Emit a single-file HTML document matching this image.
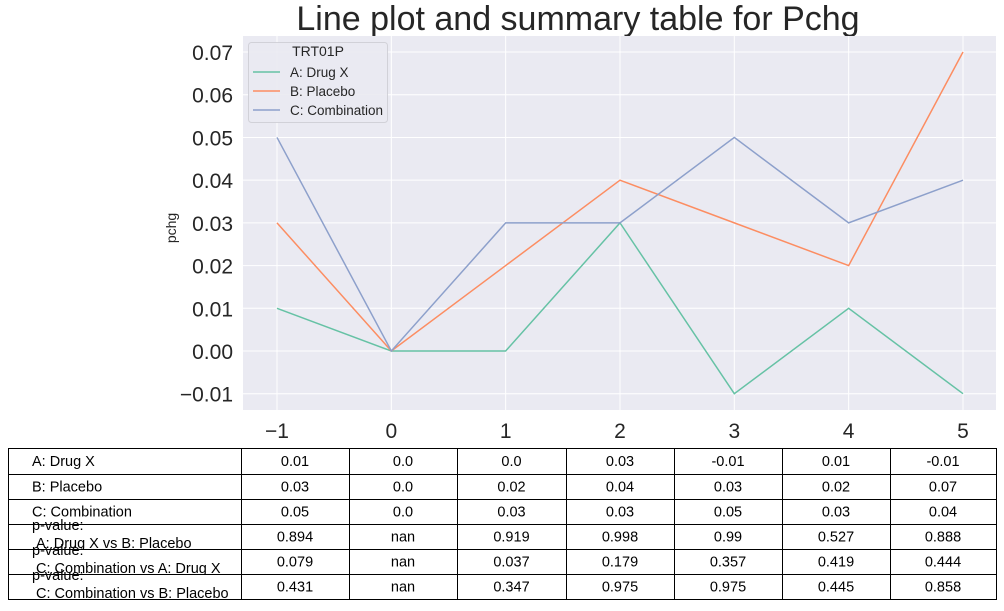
<!DOCTYPE html>
<html><head><meta charset="utf-8"><style>
body{margin:0;background:#fff;font-family:"Liberation Sans",Arial,sans-serif}
svg text{font-family:"Liberation Sans",Arial,sans-serif}
</style></head><body>
<svg id="c" width="1004" height="606" xmlns="http://www.w3.org/2000/svg">
<text x="578" y="30" font-size="34" text-anchor="middle" fill="#262626">Line plot and summary table for Pchg</text>
<rect x="243" y="36" width="753" height="374" fill="#eaeaf2"/>
<g id="grid"></g>
<g id="lines"></g>
<text transform="translate(176,228) rotate(-90)" font-size="14" text-anchor="middle" fill="#262626">pchg</text>
<g>
<rect x="248.5" y="42.5" width="139" height="80" rx="3" fill="#eaeaf2" stroke="#cfcfd6" opacity="0.9"/>
<text x="318" y="56" font-size="14" text-anchor="middle" fill="#262626">TRT01P</text>
<g id="leg"></g>
</g>
<g id="table"></g>
</svg>
<script>
const xs=[-1,0,1,2,3,4,5];
const yTicks=[-0.01,0,0.01,0.02,0.03,0.04,0.05,0.06,0.07];
const yTickLabels=["−0.01","0.00","0.01","0.02","0.03","0.04","0.05","0.06","0.07"];
const xTickLabels=["−1","0","1","2","3","4","5"];
const seriesNames=["A: Drug X","B: Placebo","C: Combination"];
const seriesColors=["#66c2a5","#fc8d62","#8da0cb"];
const drugX=[0.01,0.0,0.0,0.03,-0.01,0.01,-0.01];
const placebo=[0.03,0.0,0.02,0.04,0.03,0.02,0.07];
const combination=[0.05,0.0,0.03,0.03,0.05,0.03,0.04];
const rowLabels=["A: Drug X","B: Placebo","C: Combination","p-value:\nA: Drug X vs B: Placebo","p-value:\nC: Combination vs A: Drug X","p-value:\nC: Combination vs B: Placebo"];
const pvalAB=["0.894","nan","0.919","0.998","0.99","0.527","0.888"];
const pvalCA=["0.079","nan","0.037","0.179","0.357","0.419","0.444"];
const pvalCB=["0.431","nan","0.347","0.975","0.975","0.445","0.858"];
const NS="http://www.w3.org/2000/svg";
const X=v=>277+(v+1)*114.33, Y=v=>351-v*4271;
function mk(t,a,p){const e=document.createElementNS(NS,t);for(const k in a)e.setAttribute(k,a[k]);p.appendChild(e);return e;}
const grid=document.getElementById('grid'),svg=document.getElementById('c');
yTicks.forEach((v,i)=>{
 const l=mk('line',{x1:243,x2:996,y1:Y(v),y2:Y(v),stroke:'#fff','stroke-width':1},grid);
 
 
 const t=mk('text',{x:233,y:Y(v)+8,'font-size':21,'text-anchor':'end',fill:'#262626'},svg);
 t.textContent=yTickLabels[i];
 
 
});
xs.forEach((v,i)=>{
 const l=mk('line',{x1:X(v),x2:X(v),y1:36,y2:410,stroke:'#fff','stroke-width':1},grid);
 
 
 const t=mk('text',{x:X(v),y:438,'font-size':21,'text-anchor':'middle',fill:'#262626'},svg);
 t.textContent=xTickLabels[i];
 
 
});
const lines=document.getElementById('lines');
[drugX,placebo,combination].forEach((s,k)=>{
 const p=mk('polyline',{points:s.map((v,i)=>X(xs[i])+','+Y(v)).join(' '),fill:'none',stroke:seriesColors[k],'stroke-width':1.5},lines);
 
 
});
const leg=document.getElementById('leg');
seriesNames.forEach((n,k)=>{
 const y=72+k*19;
 const l=mk('line',{x1:253,x2:280,y1:y,y2:y,stroke:seriesColors[k],'stroke-width':1.5},leg);
 
 
 const t=mk('text',{x:290,y:y+5,'font-size':13.5,fill:'#262626'},leg);
 t.textContent=n;
 
 
});
const tb=document.getElementById('table');
const cols=[8,241,349,457,566,674,782,890,996];
const rowsY=[448,474,499,524,549,574,599];
const fmt=v=>{let s=String(v);if(!s.includes('.'))s+='.0';return s;};
const rowsData=[drugX.map(fmt),placebo.map(fmt),combination.map(fmt),pvalAB,pvalCA,pvalCB];
rowsData.forEach((r,ri)=>{
 const y0=rowsY[ri],y1=rowsY[ri+1];
 cols.slice(0,-1).forEach((c,ci)=>{
  const rc=mk('rect',{x:c+0.5,y:y0+0.5,width:cols[ci+1]-c,height:y1-y0,fill:'#fff',stroke:'#000','stroke-width':1},tb);
  
  
 });
 const lab=rowLabels[ri].split('\n');
 if(lab.length===1){
  const t=mk('text',{x:32,y:(y0+y1)/2+5,'font-size':14.5,fill:'#000'},tb);t.textContent=lab[0];
  
  
 }else{
  const t=mk('text',{x:32,y:y0+6,'font-size':14.5,fill:'#000'},tb);t.textContent=lab[0];
  
  
  const t2=mk('text',{x:36,y:y0+24,'font-size':14.5,fill:'#000'},tb);t2.textContent=lab[1];
  
  
 }
 r.forEach((v,ci)=>{
  const t=mk('text',{x:(cols[ci+1]+cols[ci+2])/2,y:(y0+y1)/2+5,'font-size':14.5,'text-anchor':'middle',fill:'#000'},tb);
  t.textContent=v;
  
  
 });
});
</script>
</body></html>
